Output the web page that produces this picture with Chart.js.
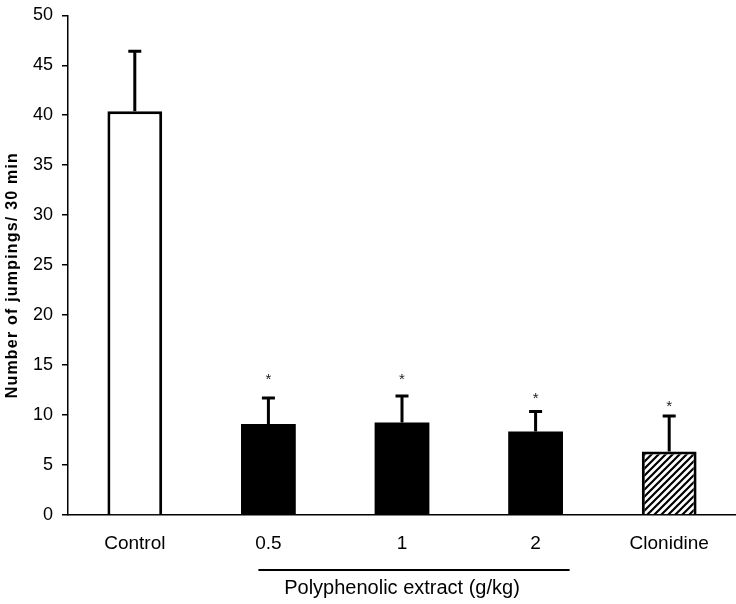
<!DOCTYPE html>
<html>
<head>
<meta charset="utf-8">
<script src="https://cdn.jsdelivr.net/npm/chart.js@4"></script>
<style>
  html, body { margin: 0; padding: 0; background: #fff; }
  #wrap { width: 736px; height: 604px; }
</style>
</head>
<body>
<div id="wrap"><canvas id="jumpChart" width="736" height="604"></canvas></div>
<script>
// Data
const categories = ['Control', '0.5', '1', '2', 'Clonidine'];
const means = [40.4, 9.1, 9.25, 8.35, 6.35];
const sem = [6.0, 2.6, 2.65, 2.0, 3.55];
const starMarks = ['', '*', '*', '*', '*'];
const starLevels = [null, 13.9, 13.9, 12.0, 11.2];
const yTicks = [0, 5, 10, 15, 20, 25, 30, 35, 40, 45, 50];
const yTitle = 'Number of jumpings/ 30 min';
const groupLabel = 'Polyphenolic extract (g/kg)';

const FONT = '"Liberation Sans", Arial, sans-serif';
const PLOT_TOP = 14;

// hatch pattern for the clonidine bar
function makeHatch() {
    const n = 7;
    const c = document.createElement('canvas');
    c.width = n; c.height = n;
    const g = c.getContext('2d');
    g.fillStyle = '#fff';
    g.fillRect(0, 0, n, n);
    g.strokeStyle = '#000';
    g.lineWidth = 2.2;
    g.beginPath();
    g.moveTo(0, n); g.lineTo(n, 0);
    g.moveTo(-1, 1); g.lineTo(1, -1);
    g.moveTo(n - 1, n + 1); g.lineTo(n + 1, n - 1);
    g.stroke();
    return g.createPattern(c, 'repeat');
}

const ctx = document.getElementById('jumpChart').getContext('2d');
const hatch = makeHatch();

// error bars (upper only) and significance stars
const errorBars = {
    id: 'errorBars',
    afterDatasetsDraw(chart) {
        const meta = chart.getDatasetMeta(0);
        const y = chart.scales.y;
        const c = chart.ctx;
        c.save();
        c.strokeStyle = '#000';
        c.lineWidth = 3;
        meta.data.forEach((bar, i) => {
            const top = y.getPixelForValue(means[i]);
            const cap = y.getPixelForValue(means[i] + sem[i]);
            c.beginPath();
            c.moveTo(bar.x, top);
            c.lineTo(bar.x, cap);
            c.moveTo(bar.x - 6.5, cap);
            c.lineTo(bar.x + 6.5, cap);
            c.stroke();
            if (starMarks[i]) {
                c.fillStyle = '#222';
                c.font = '15px ' + FONT;
                c.textAlign = 'center';
                c.textBaseline = 'middle';
                c.fillText(starMarks[i], bar.x, y.getPixelForValue(starLevels[i]) + 4);
            }
        });
        c.restore();
    }
};

// y title + group bracket under the extract doses
const extras = {
    id: 'extras',
    afterDraw(chart) {
        const c = chart.ctx;
        const area = chart.chartArea;
        const x = chart.scales.x;
        c.save();
        c.fillStyle = '#000';
        c.translate(13, (area.top + area.bottom) / 2 + 10);
        c.rotate(-Math.PI / 2);
        c.font = 'bold 16px ' + FONT;
        c.letterSpacing = '1.2px';
        c.textAlign = 'center';
        c.textBaseline = 'middle';
        c.fillText(yTitle, 0, 0);
        c.restore();

        const x1 = x.getPixelForValue(1) - 10;
        const x2 = x.getPixelForValue(3) + 34;
        c.save();
        c.strokeStyle = '#000';
        c.lineWidth = 2;
        c.beginPath();
        c.moveTo(x1, 570);
        c.lineTo(x2, 570);
        c.stroke();
        c.fillStyle = '#000';
        c.font = '20px ' + FONT;
        c.textAlign = 'center';
        c.textBaseline = 'middle';
        c.fillText(groupLabel, x.getPixelForValue(2), 588);
        c.restore();
    }
};

const chart = new Chart(ctx, {
    type: 'bar',
    data: {
        labels: categories,
        datasets: [{
            data: means,
            backgroundColor: ['#fff', '#000', '#000', '#000', hatch],
            borderColor: '#000',
            borderWidth: [3, 0, 0, 0, 3],
            borderSkipped: 'bottom',
            barPercentage: 0.41,
            categoryPercentage: 1
        }]
    },
    options: {
        responsive: false,
        animation: false,
        layout: { padding: { top: 0, right: 0, left: 0, bottom: 0 } },
        plugins: { legend: { display: false }, tooltip: { enabled: false } },
        scales: {
            x: {
                offset: true,
                grid: { display: false, drawTicks: false },
                border: { display: true, color: '#000', width: 1.5 },
                ticks: { color: '#000', font: { family: FONT, size: 19 }, padding: 17, maxRotation: 0 },
                afterFit(scale) { scale.height = 89; }
            },
            y: {
                min: 0,
                max: 50,
                afterBuildTicks(scale) { scale.ticks = yTicks.map(v => ({ value: v })); },
                grid: { drawOnChartArea: false, drawTicks: true, tickLength: 6, color: '#000', lineWidth: 1.5 },
                border: { display: true, color: '#000', width: 1.5 },
                ticks: { color: '#000', font: { family: FONT, size: 18, lineHeight: 0.7 }, padding: 9 },
                afterFit(scale) { scale.width = 68; }
            }
        }
    },
    plugins: [errorBars, extras]
});

// nudge the top so the 50 tick lands where it is in the figure
const diff = PLOT_TOP - chart.chartArea.top;
if (Math.abs(diff) > 0.5) {
    chart.options.layout.padding.top = Math.max(0, diff);
    chart.update();
}
</script>
</body>
</html>
